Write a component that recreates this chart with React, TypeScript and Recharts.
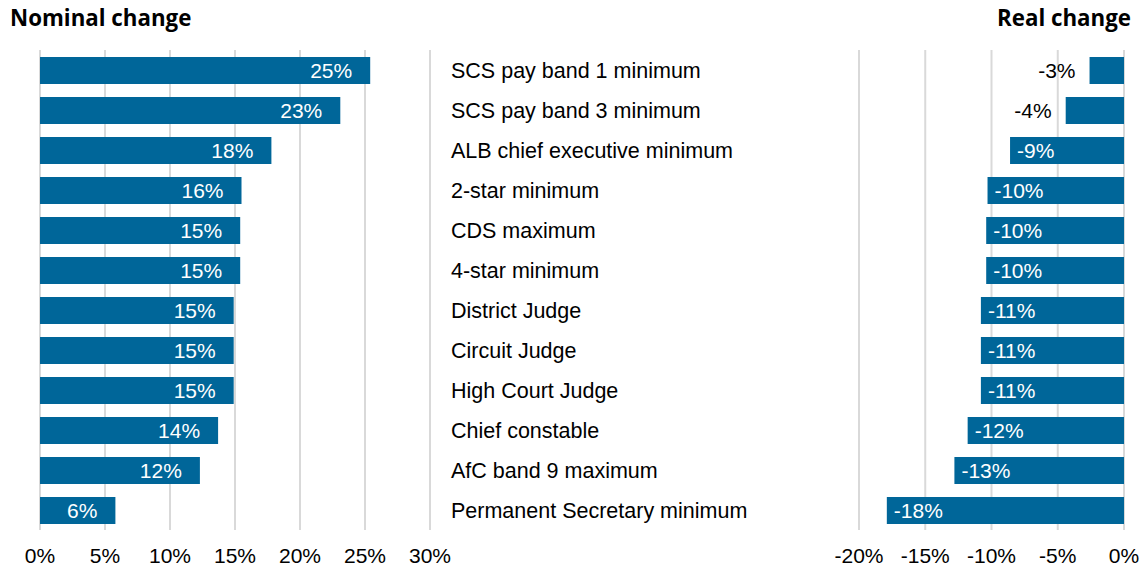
import React from 'react';
import { BarChart, Bar, XAxis, YAxis, CartesianGrid, LabelList } from 'recharts';

const categories = [
  'SCS pay band 1 minimum',
  'SCS pay band 3 minimum',
  'ALB chief executive minimum',
  '2-star minimum',
  'CDS maximum',
  '4-star minimum',
  'District Judge',
  'Circuit Judge',
  'High Court Judge',
  'Chief constable',
  'AfC band 9 maximum',
  'Permanent Secretary minimum',
];

const nominalChange = [25.4, 23.1, 17.8, 15.5, 15.4, 15.4, 14.9, 14.9, 14.9, 13.7, 12.3, 5.8];
const realChange = [-2.6, -4.4, -8.6, -10.3, -10.4, -10.4, -10.8, -10.8, -10.8, -11.8, -12.8, -17.9];

const nominalTicks = [0, 5, 10, 15, 20, 25, 30];
const realTicks = [-20, -15, -10, -5, 0];

const data = categories.map((category, i) => ({
  category,
  nominal: nominalChange[i],
  real: realChange[i],
}));

const BAR_COLOR = '#006699';
const GRID_COLOR = '#d9d9d9';
const FONT = '"Liberation Sans", Arial, sans-serif';
const FS = 21;
const CAT_FS = 21.5;

const fmt = (v: number) => `${Math.round(v)}%`;

const NominalLabel = (props: any) => {
  const { x, y, width, height, value } = props;
  const right = Math.max(x, x + width);
  return (
    <text
      x={right - 18}
      y={y + height / 2}
      dy="0.36em"
      textAnchor="end"
      fill="#ffffff"
      fontFamily={FONT}
      fontSize={FS}
    >
      {fmt(value)}
    </text>
  );
};

const RealLabel = (props: any) => {
  const { x, y, width, height, value } = props;
  const left = Math.min(x, x + width);
  const outside = Math.abs(value) < 5;
  return (
    <text
      x={outside ? left - 14 : left + 7}
      y={y + height / 2}
      dy="0.36em"
      textAnchor={outside ? 'end' : 'start'}
      fill={outside ? '#000000' : '#ffffff'}
      fontFamily={FONT}
      fontSize={FS}
    >
      {fmt(value)}
    </text>
  );
};

const CategoryTick = (props: any) => {
  const { x, y, payload } = props;
  return (
    <text x={x} y={y} dy="0.36em" textAnchor="start" fill="#000000" fontFamily={FONT} fontSize={CAT_FS}>
      {payload.value}
    </text>
  );
};

const tickStyle = { fill: '#000000', fontFamily: FONT, fontSize: FS };

const titleStyle: React.CSSProperties = {
  position: 'absolute',
  top: 2,
  fontFamily: '"Open Sans", sans-serif',
  fontWeight: 700,
  fontSize: 22.3,
  color: '#000',
  whiteSpace: 'nowrap',
};

export default function App() {
  return (
    <div style={{ position: 'absolute', left: 0, top: 0, width: 1143, height: 574, background: '#ffffff' }}>
      <div style={{ ...titleStyle, left: 10 }}>Nominal change</div>
      <div style={{ ...titleStyle, right: 12 }}>Real change</div>

      <div style={{ position: 'absolute', left: 0, top: 0 }}>
        <BarChart
          width={800}
          height={574}
          data={data}
          layout="vertical"
          margin={{ top: 50, right: 0, bottom: 0, left: 40 }}
          barSize={27}
        >
          <CartesianGrid horizontal={false} vertical stroke={GRID_COLOR} strokeWidth={2} />
          <XAxis
            type="number"
            dataKey="nominal"
            domain={[0, 30]}
            ticks={nominalTicks}
            tickFormatter={(v: number) => `${v}%`}
            axisLine={false}
            tickLine={false}
            tickSize={0}
            tickMargin={18}
            height={44}
            tick={tickStyle}
            interval={0}
          />
          <YAxis
            type="category"
            dataKey="category"
            orientation="right"
            width={370}
            axisLine={false}
            tickLine={false}
            tickSize={0}
            tickMargin={21}
            tick={<CategoryTick />}
            interval={0}
          />
          <Bar dataKey="nominal" fill={BAR_COLOR} isAnimationActive={false}>
            <LabelList dataKey="nominal" content={<NominalLabel />} />
          </Bar>
        </BarChart>
      </div>

      <div style={{ position: 'absolute', left: 800, top: 0 }}>
        <BarChart
          width={343}
          height={574}
          data={data}
          layout="vertical"
          margin={{ top: 50, right: 19, bottom: 0, left: 59 }}
          barSize={27}
        >
          <CartesianGrid horizontal={false} vertical stroke={GRID_COLOR} strokeWidth={2} />
          <XAxis
            type="number"
            dataKey="real"
            domain={[-20, 0]}
            ticks={realTicks}
            tickFormatter={(v: number) => `${v}%`}
            axisLine={false}
            tickLine={false}
            tickSize={0}
            tickMargin={18}
            height={44}
            tick={tickStyle}
            interval={0}
          />
          <YAxis type="category" dataKey="category" hide width={0} />
          <Bar dataKey="real" fill={BAR_COLOR} isAnimationActive={false}>
            <LabelList dataKey="real" content={<RealLabel />} />
          </Bar>
        </BarChart>
      </div>
    </div>
  );
}
